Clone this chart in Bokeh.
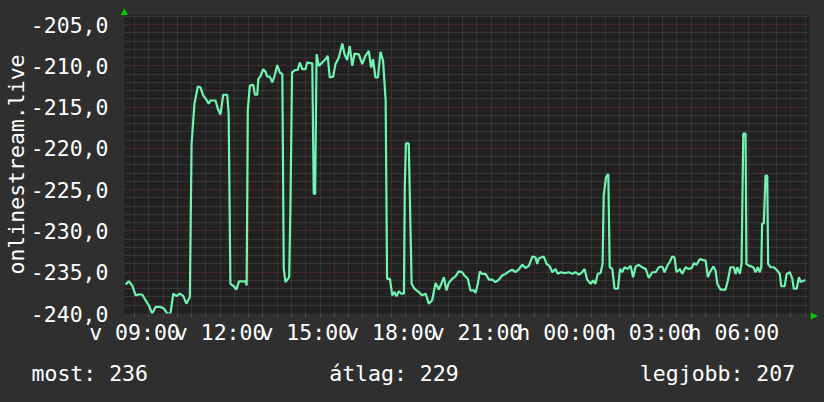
from bokeh.plotting import figure
from bokeh.models import Range1d, FixedTicker, Title, GlobalInlineStyleSheet
from bokeh.embed import file_html
from bokeh.resources import INLINE

# ---------------- data (hours since Sunday 00:00, value) ----------------
hours_morning = [8.69, 8.80, 8.92, 9.04, 9.14, 9.27, 9.39, 9.50, 9.62, 9.74, 9.91, 10.03, 10.15, 10.26,
                 10.36, 10.47, 10.59, 10.71, 10.82, 10.94, 11.00, 11.10, 11.22, 11.31, 11.41, 11.52,
                 11.60, 11.66, 11.84, 11.92, 12.01, 12.11, 12.25, 12.30, 12.36, 12.48, 12.57, 12.66,
                 12.89, 12.93, 12.97, 13.04, 13.16, 13.22, 13.30, 13.34, 13.42, 13.51, 13.59, 13.65,
                 13.74, 13.83, 13.91, 14.00, 14.09, 14.18, 14.23, 14.29, 14.42, 14.47]
values_morning = [-236.5, -236.1, -236.6, -237.8, -237.7, -237.7, -238.4, -239.0, -240.0, -239.2,
                  -239.2, -239.4, -240.0, -240.0, -237.6, -237.9, -237.6, -237.9, -238.8, -238.0,
                  -219.5, -214.6, -212.5, -212.6, -213.6, -214.1, -214.6, -214.2, -214.2, -215.2,
                  -215.9, -213.5, -213.5, -215.8, -236.4, -236.7, -237.1, -236.1, -236.1, -236.6,
                  -215.4, -212.4, -212.3, -213.5, -213.5, -211.6, -211.2, -210.4, -210.7, -211.3,
                  -211.3, -212.0, -211.2, -209.9, -210.8, -211.0, -234.6, -236.2, -235.6, -225.5]

hours_afternoon = [14.52, 14.64, 14.72, 14.79, 14.88, 14.99, 15.05, 15.23, 15.28, 15.33, 15.38, 15.46,
                   15.58, 15.69, 15.77, 15.84, 15.96, 16.04, 16.16, 16.28, 16.36, 16.45, 16.54, 16.63,
                   16.71, 16.86, 16.98, 17.09, 17.21, 17.29, 17.36, 17.44, 17.53, 17.62, 17.71, 17.80,
                   17.85, 17.95, 18.03, 18.11, 18.18, 18.26, 18.35, 18.44, 18.47, 18.51, 18.61, 18.65,
                   18.71, 18.81, 18.96, 19.08, 19.20, 19.31, 19.43, 19.55, 19.66, 19.75, 19.84, 19.93]
values_afternoon = [-210.8, -210.5, -210.5, -209.6, -210.4, -210.4, -209.6, -209.7, -225.5, -225.5,
                    -208.6, -210.0, -209.6, -209.2, -208.8, -211.4, -211.3, -209.8, -209.0, -207.3,
                    -208.6, -209.3, -207.6, -210.0, -208.5, -208.6, -209.8, -208.8, -208.2, -210.2,
                    -209.2, -211.4, -211.4, -208.3, -209.4, -214.2, -235.8, -235.8, -237.8, -237.4,
                    -237.9, -237.3, -237.6, -237.6, -224.7, -219.4, -219.4, -226.3, -236.4, -237.0,
                    -237.4, -237.8, -237.6, -238.8, -238.4, -236.3, -237.1, -236.4, -235.6, -237.2]

hours_evening = [20.01, 20.13, 20.25, 20.36, 20.48, 20.56, 20.68, 20.77, 20.89, 20.95, 21.03, 21.10,
                 21.18, 21.30, 21.42, 21.53, 21.65, 21.77, 21.88, 22.00, 22.12, 22.23, 22.35, 22.47,
                 22.59, 22.70, 22.82, 22.94, 23.05, 23.11, 23.17, 23.34, 23.44, 23.55, 23.64, 23.75,
                 23.83, 23.93, 24.10, 24.22, 24.34, 24.45, 24.57, 24.69, 24.77, 24.86, 24.98, 25.07,
                 25.15, 25.23, 25.33, 25.40, 25.44, 25.52, 25.60, 25.65, 25.74, 25.82, 25.94, 26.01]
values_evening = [-236.3, -235.8, -235.5, -234.9, -235.0, -235.4, -235.8, -237.2, -237.2, -237.5,
                  -236.4, -234.9, -235.2, -235.2, -235.9, -235.9, -236.2, -235.9, -235.4, -235.2,
                  -234.9, -234.7, -235.0, -234.6, -234.1, -234.5, -234.2, -233.1, -233.2, -234.0,
                  -233.3, -233.1, -234.0, -234.3, -235.0, -234.6, -235.2, -235.0, -235.1, -235.0,
                  -235.2, -235.0, -235.3, -235.0, -234.6, -235.9, -236.4, -236.0, -236.4, -235.2,
                  -235.1, -234.0, -225.7, -223.5, -223.1, -234.4, -234.6, -237.0, -237.0, -234.6]

hours_night = [26.09, 26.17, 26.29, 26.38, 26.47, 26.56, 26.67, 26.79, 26.91, 27.02, 27.14, 27.26,
               27.37, 27.49, 27.57, 27.67, 27.76, 27.84, 27.92, 27.99, 28.11, 28.19, 28.31, 28.42,
               28.52, 28.60, 28.69, 28.81, 28.89, 29.01, 29.09, 29.16, 29.28, 29.36, 29.42, 29.53,
               29.71, 29.79, 29.88, 30.00, 30.06, 30.12, 30.21, 30.27, 30.33, 30.41, 30.44, 30.53,
               30.68, 30.76, 30.84, 30.91, 30.96, 30.99, 31.05, 31.11, 31.17, 31.20, 31.29, 31.40,
               31.52, 31.61, 31.66, 31.78, 31.85, 31.96, 32.05, 32.10, 32.20, 32.28, 32.34, 32.45,
               32.51]
values_night = [-235.0, -234.4, -234.6, -234.2, -235.6, -234.3, -234.1, -234.4, -234.6, -235.7,
                -235.0, -235.0, -234.4, -234.3, -235.0, -234.2, -233.7, -233.1, -233.2, -235.0,
                -234.6, -235.2, -234.4, -234.6, -234.5, -233.9, -234.1, -233.4, -233.5, -233.6,
                -235.6, -235.0, -234.3, -234.8, -236.4, -237.1, -237.1, -236.0, -234.4, -234.4,
                -235.2, -234.4, -235.2, -234.0, -218.2, -218.2, -234.0, -234.2, -234.4, -235.0,
                -234.4, -235.0, -234.4, -229.1, -229.1, -223.3, -223.3, -234.0, -234.4, -234.4,
                -234.8, -235.2, -236.7, -236.7, -235.2, -235.0, -235.8, -237.0, -237.0, -235.6,
                -236.2, -236.0, -236.0]

y_ticks = [-240, -235, -230, -225, -220, -215, -210, -205]
y_tick_labels = ["-240,0", "-235,0", "-230,0", "-225,0", "-220,0", "-215,0", "-210,0", "-205,0"]
x_ticks = [9, 12, 15, 18, 21, 24, 27, 30]
x_tick_labels = ["v 09:00", "v 12:00", "v 15:00", "v 18:00", "v 21:00", "h 00:00", "h 03:00", "h 06:00"]
series_name = "onlinestream.live"
stat_texts = ["most: 236", "átlag: 229", "legjobb: 207"]

hours = hours_morning + hours_afternoon + hours_evening + hours_night
values = values_morning + values_afternoon + values_evening + values_night

# ---------------- style ----------------
BG = "#2f2f2f"
PLOT_BG = "#212121"
FONT = "DejaVu Sans Mono"
FSIZE = "21.5px"
LINE = "#6ff4b2"
GREEN = "#00cc00"
MAJOR_GRID = "#6e3030"
MINOR_GRID = "#4c4c4c"

X0, X1 = 8.65, 32.65
Y0, Y1 = -240.0, -203.9

p = figure(width=824, height=402, output_backend="svg", toolbar_location=None, title=None,
           x_range=Range1d(X0, X1), y_range=Range1d(Y0, Y1),
           min_border_left=124, min_border_right=15, min_border_top=15, min_border_bottom=89)
p.stylesheets = [GlobalInlineStyleSheet(css="html, body { margin: 0; padding: 0; background: %s; overflow: hidden; }" % BG)]
p.background_fill_color = PLOT_BG
p.border_fill_color = BG
p.outline_line_color = None

hour_lines = list(range(9, 33))
half_lines = [h + 0.5 for h in range(8, 33) if X0 <= h + 0.5 <= X1]
unit_lines = [v for v in range(-240, -203) if v % 5 != 0]

# grids
p.xgrid.ticker = FixedTicker(ticks=hour_lines, minor_ticks=half_lines)
p.ygrid.ticker = FixedTicker(ticks=y_ticks, minor_ticks=unit_lines)
for g in (p.xgrid, p.ygrid):
    g.grid_line_color = MAJOR_GRID
    g.grid_line_dash = "1 1"
    g.grid_line_width = 1
    g.minor_grid_line_color = MINOR_GRID
    g.minor_grid_line_dash = "1 1"
    g.minor_grid_line_width = 1

# x axis
xa = p.xaxis[0]
xa.ticker = FixedTicker(ticks=x_ticks, minor_ticks=hour_lines + half_lines)
xa.major_label_overrides = dict(zip(x_ticks, x_tick_labels))
xa.axis_line_color = None
xa.major_tick_line_color = MINOR_GRID
xa.minor_tick_line_color = MINOR_GRID
xa.major_tick_out = 4
xa.major_tick_in = 0
xa.minor_tick_out = 4
xa.minor_tick_in = 0
xa.major_label_standoff = 2
xa.major_label_text_font = FONT
xa.major_label_text_font_size = FSIZE
xa.major_label_text_color = "white"

# y axis
ya = p.yaxis[0]
ya.ticker = FixedTicker(ticks=y_ticks)
ya.major_label_overrides = dict(zip(y_ticks, y_tick_labels))
ya.axis_line_color = None
ya.major_tick_line_color = None
ya.minor_tick_line_color = None
ya.major_tick_out = 0
ya.major_tick_in = 0
ya.minor_tick_out = 0
ya.minor_tick_in = 0
ya.major_label_standoff = 16
ya.major_label_text_font = FONT
ya.major_label_text_font_size = FSIZE
ya.major_label_text_color = "white"
ya.axis_label = series_name
ya.axis_label_text_font = FONT
ya.axis_label_text_font_size = FSIZE
ya.axis_label_text_font_style = "normal"
ya.axis_label_text_color = "white"
ya.axis_label_standoff = -1

# data line
p.line(hours, values, line_color=LINE, line_width=2.2)

# statistics row under the chart (monospaced, spaced with no-break spaces)
NB = "\u00a0"
stats_line = stat_texts[0] + NB * 14 + stat_texts[1] + NB * 14 + stat_texts[2]
p.add_layout(Title(text=stats_line, align="left", offset=-93, standoff=23,
                   text_font=FONT, text_font_size=FSIZE, text_font_style="normal",
                   text_color="white"), "below")

# green arrow heads at the axis ends
p.add_layout(Title(text="\u25b2", align="left", offset=-3.5, standoff=0,
                   text_font="DejaVu Sans", text_font_size="9px", text_font_style="normal",
                   text_color=GREEN), "above")
p.add_layout(Title(text="\u25b2", align="right", offset=-6, standoff=0,
                   text_font="DejaVu Sans", text_font_size="9px", text_font_style="normal",
                   text_color=GREEN), "right")

open("out.html", "w").write(file_html(p, INLINE))
